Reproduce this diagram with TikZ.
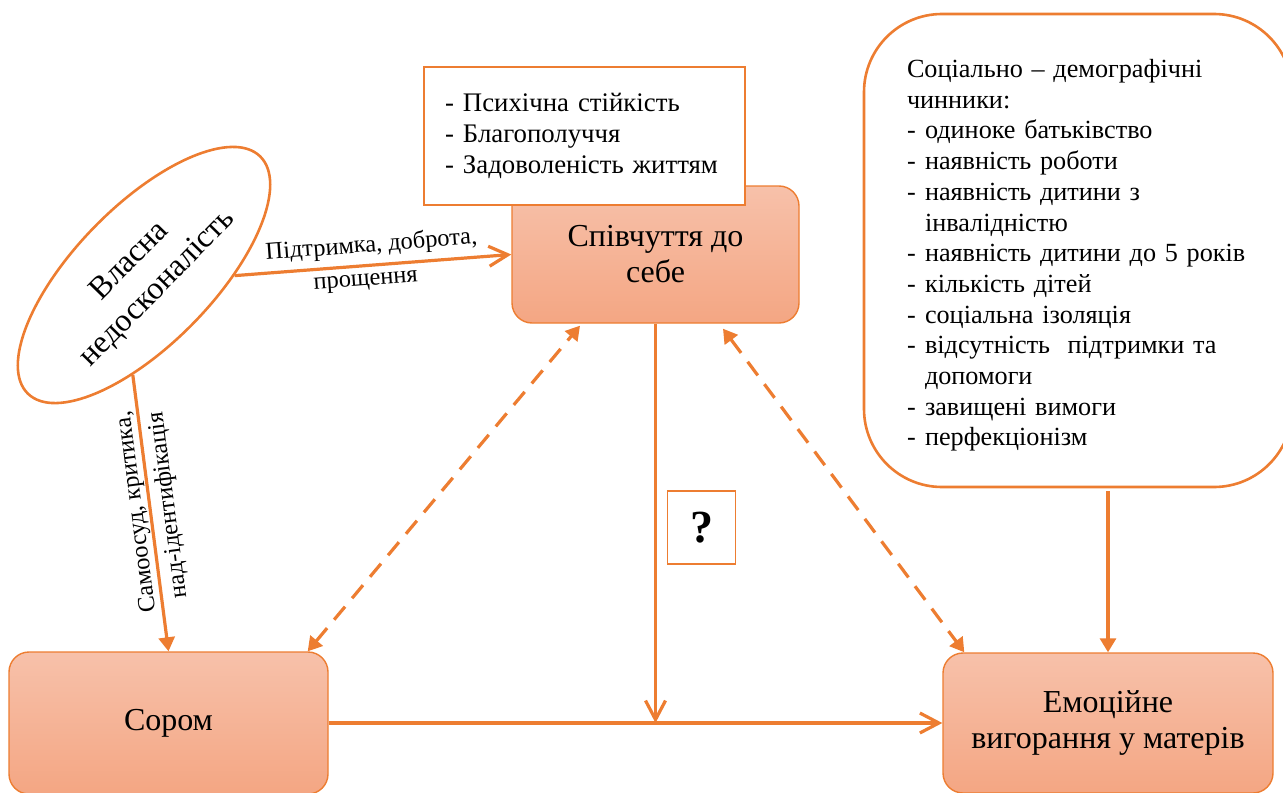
\documentclass[tikz,border=0pt]{standalone}
\usepackage{fontspec}
\setmainfont{Liberation Serif}
\usetikzlibrary{shapes.geometric, arrows.meta}
\definecolor{org}{HTML}{ED7D31}
\definecolor{btop}{RGB}{247,193,170}
\definecolor{bbot}{RGB}{244,166,131}
\newcommand{\itm}[1]{\mbox{\makebox[9pt][l]{-}#1}}
\newcommand{\cnt}[1]{\mbox{\hspace*{9pt}#1}}
\begin{document}
\begin{tikzpicture}[x=0.5pt, y=-0.5pt,
  mainbox/.style={draw=org, line width=0.7pt, rounded corners=10pt, top color=btop, bottom color=bbot, align=center, font=\fontsize{16}{18}\selectfont, inner sep=0pt},
  wbox/.style={draw=org, line width=1pt, fill=white, inner sep=0pt},
  conn/.style={draw=org, line width=1.6pt},
  dsh/.style={dash pattern=on 8.5pt off 5.5pt},
  vtip/.style={-{Straight Barb[length=9.5pt,width=10pt]}},
  ttip/.style={-{Triangle[length=7pt,width=8pt]}},
  rtip/.style={{Triangle[length=7pt,width=8pt]}-},
  btip/.style={{Triangle[length=7pt,width=8pt]}-{Triangle[length=7pt,width=8pt]}},
  lab/.style={font=\fontsize{12.2}{14}\selectfont}
]
\useasboundingbox (0,0) rectangle (1283,792);

% main boxes
\node[mainbox, minimum width=143.5pt, minimum height=68.5pt] (symp) at (655.5,254.5) {Співчуття до\\себе};
\node[mainbox, minimum width=159.5pt, minimum height=71pt] (sor) at (168.5,723) {Сором};
\node[mainbox, minimum width=165pt, minimum height=70pt] (emo) at (1108,723) {Емоційне\\вигорання у матерів};

% top white box
\node[wbox, minimum width=160.5pt, minimum height=69pt, text width=139.5pt, align=left,
      font=\fontsize{13.4}{15.6}\selectfont] (res) at (584.5,136)
  {\itm{Психічна стійкість}\\\itm{Благополуччя}\\\itm{Задоволеність життям}};

% right box
\node[draw=org, line width=1.3pt, fill=white, rounded corners=39pt, minimum width=214pt, minimum height=236.5pt,
      inner sep=0pt, text width=171pt, align=left, font=\fontsize{13.1}{15.35}\selectfont] (soc) at (1078,250.5)
  {\rule{0pt}{14pt}\mbox{Соціально – демографічні}\\\mbox{чинники:}\\
   \itm{одиноке батьківство}\\\itm{наявність роботи}\\\itm{наявність дитини з}\\\cnt{інвалідністю}\\
   \itm{наявність дитини до 5 років}\\\itm{кількість дітей}\\\itm{соціальна ізоляція}\\
   \itm{відсутність\ \ підтримки та}\\\cnt{допомоги}\\\itm{завищені вимоги}\\\itm{перфекціонізм}};

% question box
\node[draw=org, line width=0.7pt, fill=white, minimum width=34pt, minimum height=36.5pt, inner sep=0pt,
      font=\bfseries\fontsize{23}{26}\selectfont] (q) at (701.5,527.5) {?};

% ellipse
\node[draw=org, line width=1.3pt, ellipse, minimum width=166pt, minimum height=69pt, inner sep=0pt,
      rotate=45.6, align=center, font=\fontsize{16}{19.5}\selectfont] (ell) at (144,275) {Власна\\недосконалість};

% connectors
\draw[conn, vtip] (ell.-46) -- (symp.west)
  node[lab, pos=0.5, sloped, above] (l1) {Підтримка, доброта,}
  node[lab, pos=0.47, sloped, below] (l2) {прощення};
\draw[conn, rtip] (sor.north) -- (ell.-142)
  node[lab, pos=0.51, sloped, allow upside down, above, inner sep=0.5pt] (l3) {Самоосуд, критика,}
  node[lab, pos=0.52, sloped, allow upside down, below, inner sep=3pt] (l4) {над-ідентифікація};
\draw[conn, vtip] (symp.south) -- (symp.south |- sor.east);
\draw[conn, vtip] (sor.east) -- (emo.west);
\draw[conn, dsh, btip] ([xshift=-10.5pt]sor.north east) -- ([xshift=-37.75pt, yshift=-1pt]symp.south);
\draw[conn, dsh, btip] ([xshift=33.75pt, yshift=-2.5pt]symp.south) -- ([xshift=11pt]emo.north west);
\draw[conn, ttip] ([yshift=-1.5pt]emo.north |- soc.south) -- (emo.north);
\end{tikzpicture}
\end{document}
